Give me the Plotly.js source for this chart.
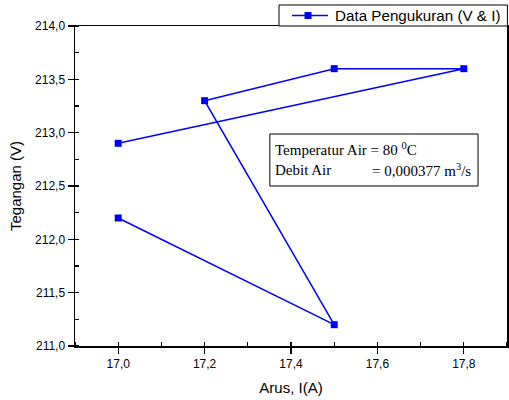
<!DOCTYPE html>
<html>
<head>
<meta charset="utf-8">
<script src="https://cdn.plot.ly/plotly-3.0.1.min.js"></script>
<style>html,body{margin:0;padding:0;background:#fff;}#chart{width:509px;height:400px;}</style>
</head>
<body>
<div id="chart"></div>
<script>
var arus = [17.0, 17.8, 17.5, 17.2, 17.5, 17.0];
var tegangan = [212.9, 213.6, 213.6, 213.3, 211.2, 212.2];
var seriesName = 'Data Pengukuran (V &amp; I)';
var xTicks = [17.0, 17.2, 17.4, 17.6, 17.8];
var yTicks = [211.0, 211.5, 212.0, 212.5, 213.0, 213.5, 214.0];
var infoLabels = ['Temperatur Air = 80 <sup>0</sup>C', 'Debit Air', '= 0,000377 m<sup>3</sup>/s'];

var sansFam = 'Liberation Sans, Arial, sans-serif';
var serifFam = 'Liberation Serif, Times New Roman, serif';
var axisFont = {family: sansFam, size: 12, color: '#000'};
var titleFont = {family: sansFam, size: 15, color: '#000'};
var blue = '#0000ff';

var trace = {
  x: arus, y: tegangan, name: seriesName, type: 'scatter', mode: 'lines+markers',
  line: {color: blue, width: 1.5},
  marker: {symbol: 'square', size: 7, color: blue},
  showlegend: false
};

// manual legend (drawn above the plot, like the original)
var lg = {x0: 0.4722, x1: 1.001, y0: 1.0, y1: 1.0656, yc: 1.0328,
          lx0: 0.5023, lx1: 0.5856, mx: 0.5394, mdx: 0.0081, mdy: 0.0109, tx: 0.5972};

var layout = {
  width: 509, height: 400,
  margin: {l: 75, r: 2, t: 26, b: 54, autoexpand: false},
  paper_bgcolor: '#fff', plot_bgcolor: '#fff',
  separators: ', ',
  showlegend: false,
  xaxis: {
    range: [16.9, 17.9], tickvals: xTicks, tickformat: '.1f',
    ticks: 'outside', ticklen: 6, tickwidth: 1.2, tickcolor: '#000',
    minor: {dtick: 0.1, tick0: 17.0, ticks: 'inside', ticklen: 4, tickcolor: '#000', showgrid: false},
    showline: true, linecolor: '#000', linewidth: 1.5, mirror: true,
    showgrid: false, zeroline: false, tickfont: axisFont,
    title: {text: 'Arus, I(A)', font: titleFont, standoff: 12}
  },
  xaxis2: {
    overlaying: 'x', side: 'top', anchor: 'y', range: [16.9, 17.9], tickvals: xTicks,
    ticks: 'inside', ticklen: 6, tickwidth: 1.2, tickcolor: '#000',
    minor: {dtick: 0.1, tick0: 17.0, ticks: 'inside', ticklen: 4, tickcolor: '#000', showgrid: false},
    showticklabels: false, showline: false, showgrid: false, zeroline: false
  },
  yaxis: {
    range: [211, 214], tickvals: yTicks, tickformat: '.1f',
    ticks: 'outside', ticklen: 6, tickwidth: 1.2, tickcolor: '#000',
    minor: {dtick: 0.25, tick0: 211, ticks: 'inside', ticklen: 4, tickcolor: '#000', showgrid: false},
    showline: true, linecolor: '#000', linewidth: 1.5, mirror: true,
    showgrid: false, zeroline: false, tickfont: axisFont,
    title: {text: 'Tegangan (V)', font: titleFont, standoff: 10}
  },
  yaxis2: {
    overlaying: 'y', side: 'right', anchor: 'x', range: [211, 214], tickvals: yTicks,
    ticks: 'inside', ticklen: 6, tickwidth: 1.2, tickcolor: '#000',
    minor: {dtick: 0.25, tick0: 211, ticks: 'inside', ticklen: 4, tickcolor: '#000', showgrid: false},
    showticklabels: false, showline: false, showgrid: false, zeroline: false
  },
  shapes: [
    {type: 'rect', xref: 'paper', yref: 'paper', x0: 0.451, x1: 0.933, y0: 0.5, y1: 0.6625,
     line: {color: '#000', width: 1}, fillcolor: 'rgba(0,0,0,0)'},
    {type: 'rect', xref: 'paper', yref: 'paper', x0: lg.x0, x1: lg.x1, y0: lg.y0, y1: lg.y1,
     line: {color: '#000', width: 1}, fillcolor: '#fff'},
    {type: 'line', xref: 'paper', yref: 'paper', x0: lg.lx0, x1: lg.lx1, y0: lg.yc, y1: lg.yc,
     line: {color: blue, width: 1.5}},
    {type: 'rect', xref: 'paper', yref: 'paper', x0: lg.mx - lg.mdx, x1: lg.mx + lg.mdx,
     y0: lg.yc - lg.mdy, y1: lg.yc + lg.mdy, line: {color: blue, width: 0}, fillcolor: blue}
  ],
  annotations: [
    {xref: 'paper', yref: 'paper', x: lg.tx, y: lg.yc, xanchor: 'left', yanchor: 'middle', showarrow: false,
     text: seriesName, font: {family: sansFam, size: 15.2, color: '#000'}},
    {xref: 'paper', yref: 'paper', x: 0.458, y: 0.6156, xanchor: 'left', yanchor: 'middle', showarrow: false,
     text: infoLabels[0], font: {family: serifFam, size: 15, color: '#000'}},
    {xref: 'paper', yref: 'paper', x: 0.458, y: 0.55, xanchor: 'left', yanchor: 'middle', showarrow: false,
     text: infoLabels[1], font: {family: serifFam, size: 15, color: '#000'}},
    {xref: 'paper', yref: 'paper', x: 0.9213, y: 0.55, xanchor: 'right', yanchor: 'middle', showarrow: false,
     text: infoLabels[2], font: {family: serifFam, size: 15, color: '#000'}}
  ]
};

Plotly.newPlot('chart', [trace], layout, {displayModeBar: false, staticPlot: true});
</script>
</body>
</html>
